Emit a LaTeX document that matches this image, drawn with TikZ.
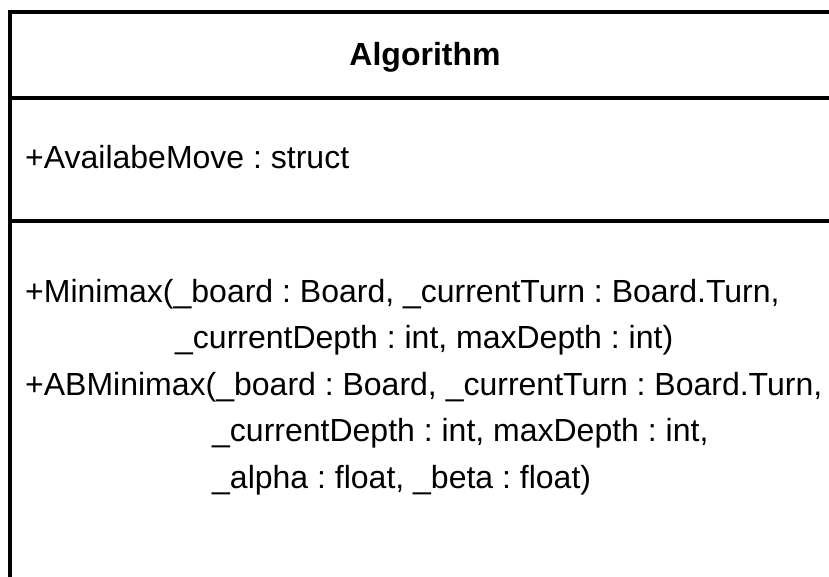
\documentclass[tikz,border=0pt]{standalone}
\usepackage{fontspec}
\setmainfont{Liberation Sans}
\begin{document}
\frenchspacing
\begin{tikzpicture}[x=1pt,y=-1pt,
  txt/.style={inner sep=0pt,anchor=base west,font=\fontsize{32}{38}\selectfont\frenchspacing},
  rule/.style={line width=4pt}]
\useasboundingbox (0,0) rectangle (829,576);
% frame
\coordinate (tl) at (10,12);
\coordinate (tr) at (835,12);
\coordinate (bl) at (10,580);
\coordinate (d1l) at (10,98);
\coordinate (d1r) at (835,98);
\coordinate (d2l) at (10,221);
\coordinate (d2r) at (835,221);
\draw[rule] (bl) -- (tl) -- (tr);
\draw[rule] (d1l) -- (d1r);
\draw[rule] (d2l) -- (d2r);
% title
\node[inner sep=0pt,anchor=base,font=\fontsize{32}{38}\selectfont\bfseries] (title) at (425,65) {Algorithm};
% attribute
\node[txt] (attr) at (25,168) {+AvailabeMove : struct};
% operations
\node[txt] (op1a) at (25,302) {+Minimax(\_board : Board, \_currentTurn : Board.Turn,};
\node[txt] (op1b) at (175,348.5) {\_currentDepth : int, maxDepth : int)};
\node[txt] (op2a) at (25,395) {+ABMinimax(\_board : Board, \_currentTurn : Board.Turn,};
\node[txt] (op2b) at (212,441.5) {\_currentDepth : int, maxDepth : int,};
\node[txt] (op2c) at (212,488) {\_alpha : float, \_beta : float)};
\end{tikzpicture}
\end{document}
